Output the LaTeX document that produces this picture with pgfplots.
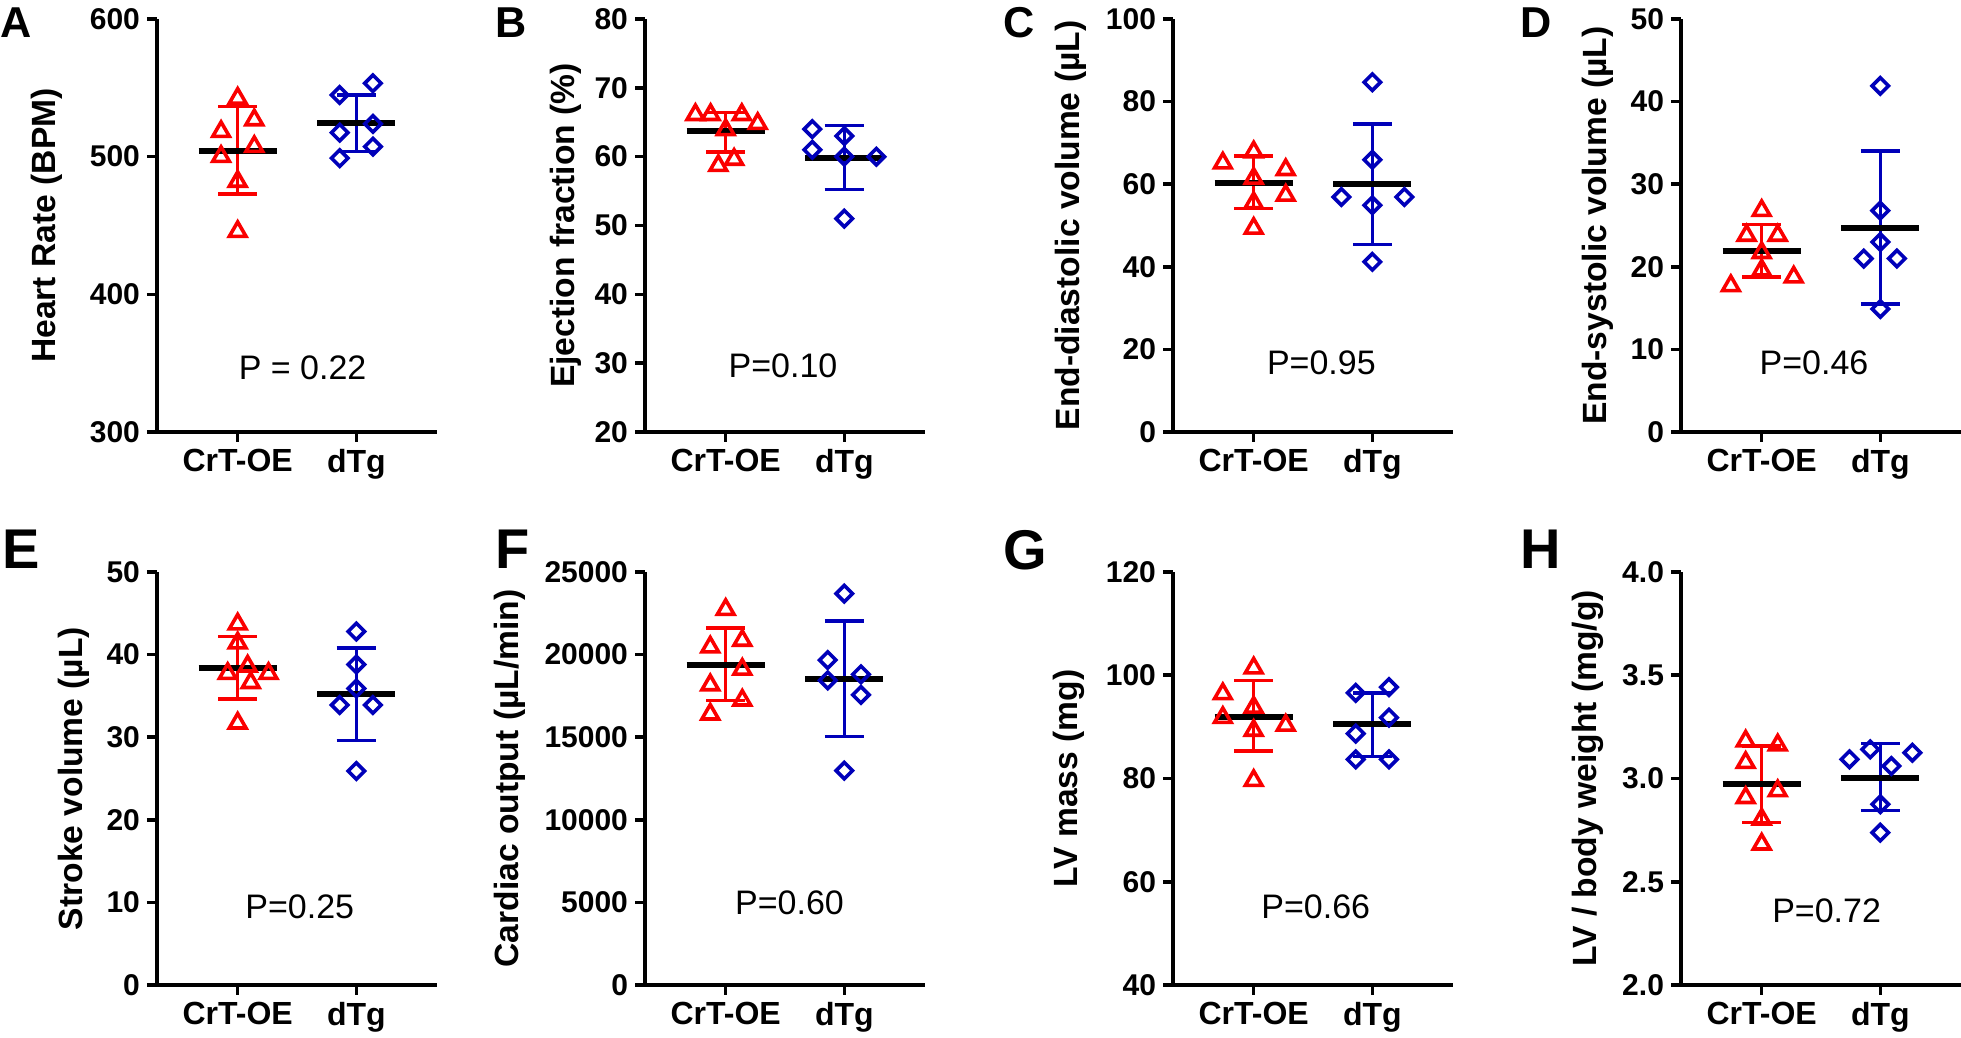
\documentclass[border=0pt]{standalone}
\usepackage{fontspec}
\setmainfont{Liberation Sans}
\usepackage{pgfplots}
\pgfplotsset{compat=1.18}

\definecolor{cred}{RGB}{250,0,0}
\definecolor{cblue}{RGB}{0,0,185}

\pgfplotsset{
  panel/.style={
    width=140pt, height=206.5pt, scale only axis, anchor=south west,
    xmin=0.32, xmax=2.68, xtick={1,2}, xticklabels={CrT-OE,dTg},
    axis lines=left, axis line style={-, line width=1.8pt},
    tick align=outside, major tick length=5pt,
    tick style={line width=1.8pt, black},
    x tick label style={font=\fontsize{16}{17}\selectfont\bfseries},
    y tick label style={font=\fontsize{15}{16}\selectfont\bfseries},
    ylabel style={font=\fontsize{16.8}{18}\selectfont\bfseries, inner sep=1pt},
    ylabel shift=4pt,
    /pgf/number format/assume math mode=true,
    /pgf/number format/1000 sep={},
    scaled y ticks=false,
    clip=false,
  },
  crt/.style={only marks, cred, mark=triangle, mark size=4.8pt,
    mark options={solid, line width=1.8pt, fill=none}},
  dtg/.style={only marks, cblue, mark=square, mark size=2.9pt,
    mark options={solid, rotate=45, line width=1.8pt, fill=none}},
}

% #1 colour, #2 group (1 or 2), #3 mean, #4 mean-SD, #5 mean+SD
\newcommand{\meansd}[5]{%
  \ifnum#2=1 \def\xa{0.67}\def\xb{0.835}\def\xc{1}\def\xd{1.165}\def\xe{1.33}%
  \else \def\xa{1.67}\def\xb{1.835}\def\xc{2}\def\xd{2.165}\def\xe{2.33}\fi
  \addplot[#1, line width=1.7pt, no markers] coordinates {(\xc,#4)(\xc,#5)};
  \addplot[#1, line width=1.7pt, no markers] coordinates {(\xb,#4)(\xd,#4)};
  \addplot[#1, line width=1.7pt, no markers] coordinates {(\xb,#5)(\xd,#5)};
  \addplot[black, line width=3pt, no markers] coordinates {(\xa,#3)(\xe,#3)};
}
\newcommand{\pval}[3]{\node[font=\fontsize{17}{18}\selectfont] at (rel axis cs:#1,#2) {#3};}

\begin{document}
\begin{tikzpicture}
\useasboundingbox (0,0) rectangle (980.5pt,519pt);

% ---- row 1
\begin{axis}[panel, at={(78.5pt,303pt)}, ymin=300, ymax=600, ytick={300,400,500,600},
  ylabel={Heart Rate (BPM)}, ylabel shift=9pt]
\meansd{cred}{1}{504.2}{473}{536.4}
\meansd{cblue}{2}{524.3}{503.7}{544.8}
\addplot[crt] coordinates {(1,542.4)(1.14,526.7)(0.86,518.2)(1.14,507.3)(0.86,500.1)(1,482)(1,445.6)};
\addplot[dtg] coordinates {(2.14,553.3)(1.86,544.8)(2.14,523.8)(1.86,517.5)(2.14,507.3)(1.86,498.9)};
\pval{0.52}{0.155}{P = 0.22}
\end{axis}

\begin{axis}[panel, at={(322.5pt,303pt)}, ymin=20, ymax=80, ytick={20,30,...,80},
  ylabel={Ejection fraction (\%)}, ylabel shift=2pt]
\meansd{cred}{1}{63.8}{60.7}{66.4}
\meansd{cblue}{2}{59.8}{55.2}{64.5}
\addplot[crt] coordinates {(0.745,66.1)(0.873,66.1)(1.136,66.1)(1.27,64.8)(1,63.9)(1.071,59.6)(0.938,58.7)};
\addplot[dtg] coordinates {(1.73,64.0)(2,63.0)(1.73,61.0)(2,60.0)(2.27,60.0)(2,51.0)};
\pval{0.493}{0.16}{P=0.10}
\end{axis}

\begin{axis}[panel, at={(586.5pt,303pt)}, ymin=0, ymax=100, ytick={0,20,...,100},
  ylabel={End-diastolic volume (µL)}, ylabel shift=5pt]
\meansd{cred}{1}{60.4}{54.1}{66.8}
\meansd{cblue}{2}{60.1}{45.4}{74.6}
\addplot[crt] coordinates {(0.74,65.1)(1,67.8)(1.27,63.5)(1,61.4)(1.27,57.3)(1,55.5)(1,49.3)};
\addplot[dtg] coordinates {(2,84.7)(2,65.9)(1.74,56.9)(2.27,56.9)(2,54.9)(2,41.2)};
\pval{0.53}{0.167}{P=0.95}
\end{axis}

\begin{axis}[panel, at={(840.5pt,303pt)}, ymin=0, ymax=50, ytick={0,10,...,50},
  ylabel={End-systolic volume (µL)}, ylabel shift=4pt]
\meansd{cred}{1}{21.9}{18.75}{25.1}
\meansd{cblue}{2}{24.7}{15.5}{34.0}
\addplot[crt] coordinates {(1,26.8)(0.873,23.8)(1.135,23.8)(1,21.7)(1,19.6)(1.27,18.75)(0.74,17.7)};
\addplot[dtg] coordinates {(2,41.9)(2,26.8)(2,23.0)(1.86,21.0)(2.14,21.0)(2,14.9)};
\pval{0.475}{0.167}{P=0.46}
\end{axis}

% ---- row 2
\begin{axis}[panel, at={(78.5pt,26.5pt)}, ymin=0, ymax=50, ytick={0,10,...,50},
  ylabel={Stroke volume (µL)}, ylabel shift=4pt]
\meansd{cred}{1}{38.4}{34.6}{42.2}
\meansd{cblue}{2}{35.2}{29.6}{40.8}
\addplot[crt] coordinates {(1,43.7)(1,41.4)(1.084,38.6)(0.916,37.7)(1.26,37.7)(1.11,36.6)(1,31.7)};
\addplot[dtg] coordinates {(2,42.8)(2,38.8)(2,35.9)(1.86,33.9)(2.14,33.9)(2,25.9)};
\pval{0.51}{0.19}{P=0.25}
\end{axis}

\begin{axis}[panel, at={(322.5pt,26.5pt)}, ymin=0, ymax=25000, ytick={0,5000,...,25000},
  ylabel={Cardiac output (µL/min)}, ylabel shift=5pt]
\meansd{cred}{1}{19369}{17237}{21622}
\meansd{cblue}{2}{18504}{15024}{22024}
\addplot[crt] coordinates {(1,22728)(0.87,20455)(1.14,20857)(1.14,19108)(0.87,18163)(1.14,17237)(0.87,16393)};
\addplot[dtg] coordinates {(2,23693)(1.86,19671)(2.14,18806)(1.86,18444)(2.14,17560)(2,12975)};
\pval{0.516}{0.20}{P=0.60}
\end{axis}

\begin{axis}[panel, at={(586.5pt,26.5pt)}, ymin=40, ymax=120, ytick={40,60,...,120},
  ylabel={LV mass (mg)}, ylabel shift=6pt]
\meansd{cred}{1}{92.0}{85.3}{99.0}
\meansd{cblue}{2}{90.5}{84.3}{96.6}
\addplot[crt] coordinates {(1,101.4)(0.74,96.4)(1,93.8)(0.74,91.8)(1.27,90.3)(1,89.3)(1,79.6)};
\addplot[dtg] coordinates {(2.14,97.7)(1.86,96.6)(2.14,91.8)(1.86,88.7)(1.86,83.7)(2.14,83.7)};
\pval{0.51}{0.19}{P=0.66}
\end{axis}

\begin{axis}[panel, at={(840.5pt,26.5pt)}, ymin=2, ymax=4, ytick={2,2.5,...,4},
  yticklabel style={/pgf/number format/.cd, fixed, fixed zerofill, precision=1},
  ylabel={LV / body weight (mg/g)}, ylabel shift=5pt]
\meansd{cred}{1}{2.972}{2.786}{3.157}
\meansd{cblue}{2}{3.004}{2.846}{3.170}
\addplot[crt] coordinates {(0.865,3.181)(1.135,3.162)(0.865,3.077)(1.135,2.940)(0.865,2.907)(1,2.803)(1,2.682)};
\addplot[dtg] coordinates {(1.915,3.141)(2.27,3.125)(1.74,3.093)(2.093,3.060)(2,2.875)(2,2.738)};
\pval{0.52}{0.18}{P=0.72}
\end{axis}

% panel letters
\begin{scope}[every node/.style={anchor=north west, inner sep=0pt, font=\fontsize{21.6}{22}\selectfont\bfseries}]
\node at (0pt,515.5pt) {A};
\node at (247.5pt,515.5pt) {B};
\node at (501.5pt,515.5pt) {C};
\node at (760pt,515.5pt) {D};
\end{scope}
\begin{scope}[every node/.style={anchor=north west, inner sep=0pt, font=\fontsize{28}{28}\selectfont\bfseries}]
\node at (1pt,254pt) {E};
\node at (247.5pt,254pt) {F};
\node at (501.5pt,254pt) {G};
\node at (760pt,254pt) {H};
\end{scope}
\end{tikzpicture}
\end{document}
